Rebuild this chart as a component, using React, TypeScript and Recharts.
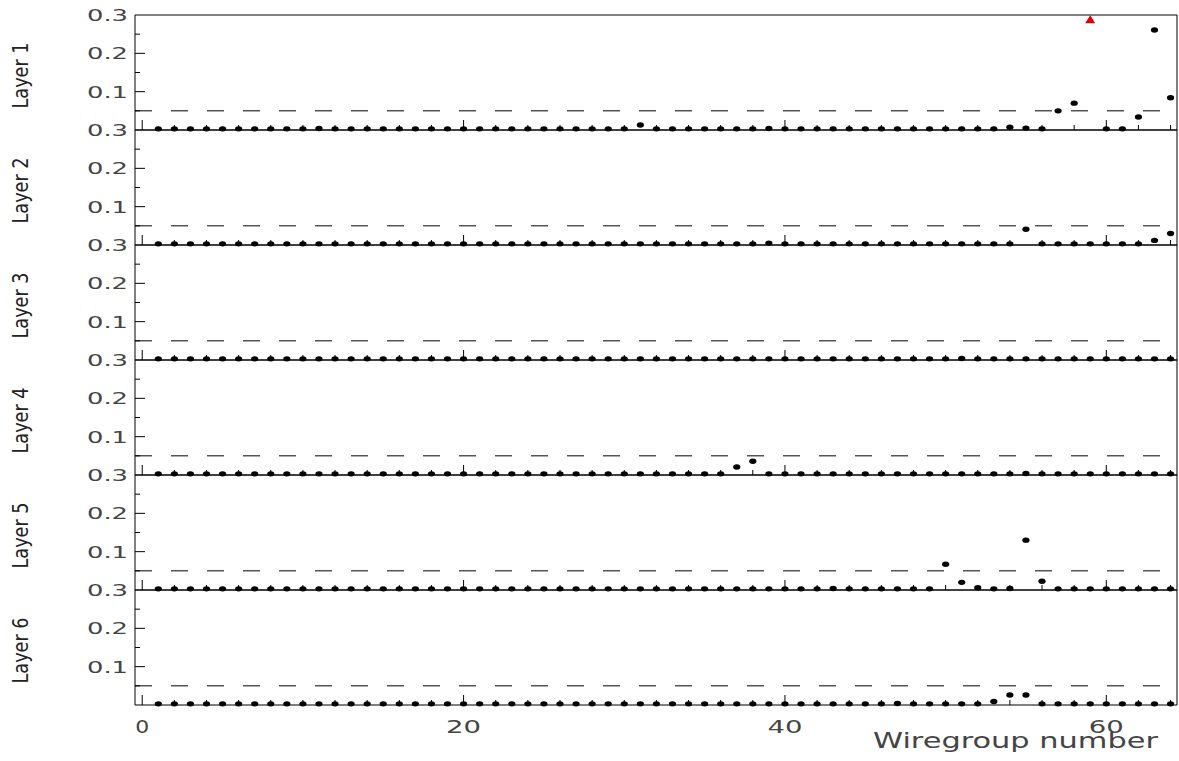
import React from 'react';
import { ScatterChart, Scatter, XAxis, YAxis, ReferenceLine } from 'recharts';

// wiregroup numbers 1..64 along the x axis
const wiregroups = Array.from({ length: 64 }, (_, i) => i + 1);

const layerNames = ['Layer 1', 'Layer 2', 'Layer 3', 'Layer 4', 'Layer 5', 'Layer 6'];

// one value per wiregroup, null where the point is off scale
const layer1 = [
  0.003, 0.003, 0.003, 0.003, 0.003, 0.003, 0.003, 0.003, 0.003, 0.003, 0.004, 0.003, 0.003, 0.003, 0.003, 0.003,
  0.003, 0.003, 0.003, 0.003, 0.003, 0.003, 0.003, 0.003, 0.003, 0.003, 0.003, 0.003, 0.003, 0.003, 0.013, 0.003,
  0.003, 0.003, 0.003, 0.003, 0.003, 0.003, 0.004, 0.003, 0.003, 0.003, 0.003, 0.003, 0.003, 0.003, 0.003, 0.003,
  0.003, 0.003, 0.003, 0.003, 0.003, 0.007, 0.005, 0.003, 0.050, 0.070, null, 0.003, 0.003, 0.034, 0.261, 0.084,
];
const layer2 = [
  0.003, 0.003, 0.003, 0.003, 0.003, 0.003, 0.003, 0.003, 0.003, 0.003, 0.003, 0.003, 0.003, 0.003, 0.003, 0.003,
  0.003, 0.003, 0.003, 0.003, 0.003, 0.003, 0.003, 0.003, 0.003, 0.003, 0.003, 0.003, 0.003, 0.003, 0.003, 0.003,
  0.003, 0.003, 0.003, 0.003, 0.003, 0.003, 0.005, 0.003, 0.003, 0.003, 0.003, 0.003, 0.003, 0.003, 0.003, 0.003,
  0.003, 0.003, 0.003, 0.003, 0.003, 0.003, 0.041, 0.003, 0.003, 0.003, 0.003, 0.003, 0.003, 0.003, 0.012, 0.030,
];
const layer3 = [
  0.003, 0.003, 0.003, 0.003, 0.003, 0.003, 0.003, 0.003, 0.003, 0.003, 0.003, 0.003, 0.003, 0.003, 0.003, 0.003,
  0.003, 0.003, 0.003, 0.003, 0.003, 0.003, 0.003, 0.003, 0.003, 0.003, 0.003, 0.003, 0.003, 0.003, 0.003, 0.003,
  0.003, 0.003, 0.003, 0.003, 0.003, 0.003, 0.003, 0.003, 0.003, 0.003, 0.003, 0.003, 0.003, 0.003, 0.003, 0.003,
  0.003, 0.003, 0.004, 0.003, 0.003, 0.003, 0.003, 0.003, 0.003, 0.003, 0.003, 0.003, 0.003, 0.003, 0.003, 0.003,
];
const layer4 = [
  0.003, 0.003, 0.003, 0.003, 0.003, 0.003, 0.003, 0.003, 0.003, 0.003, 0.003, 0.003, 0.003, 0.003, 0.003, 0.003,
  0.003, 0.003, 0.003, 0.003, 0.003, 0.003, 0.003, 0.003, 0.003, 0.003, 0.003, 0.003, 0.003, 0.003, 0.003, 0.003,
  0.003, 0.003, 0.003, 0.003, 0.021, 0.036, 0.003, 0.003, 0.003, 0.003, 0.003, 0.003, 0.003, 0.003, 0.003, 0.003,
  0.003, 0.003, 0.003, 0.003, 0.003, 0.003, 0.004, 0.003, 0.003, 0.003, 0.003, 0.003, 0.003, 0.003, 0.003, 0.003,
];
const layer5 = [
  0.003, 0.003, 0.003, 0.003, 0.003, 0.003, 0.003, 0.003, 0.003, 0.003, 0.003, 0.003, 0.003, 0.003, 0.003, 0.003,
  0.003, 0.003, 0.003, 0.003, 0.003, 0.003, 0.003, 0.003, 0.003, 0.003, 0.003, 0.003, 0.003, 0.003, 0.003, 0.003,
  0.003, 0.003, 0.003, 0.003, 0.003, 0.003, 0.003, 0.003, 0.003, 0.003, 0.004, 0.003, 0.003, 0.003, 0.003, 0.003,
  0.003, 0.067, 0.020, 0.006, 0.003, 0.004, 0.130, 0.023, 0.003, 0.003, 0.003, 0.003, 0.003, 0.003, 0.003, 0.003,
];
const layer6 = [
  0.003, 0.003, 0.003, 0.003, 0.003, 0.003, 0.003, 0.003, 0.003, 0.003, 0.003, 0.003, 0.003, 0.003, 0.003, 0.003,
  0.003, 0.003, 0.003, 0.003, 0.003, 0.003, 0.003, 0.003, 0.003, 0.003, 0.003, 0.003, 0.003, 0.003, 0.003, 0.003,
  0.003, 0.003, 0.003, 0.003, 0.003, 0.003, 0.003, 0.003, 0.003, 0.003, 0.003, 0.003, 0.003, 0.003, 0.004, 0.003,
  0.003, 0.003, 0.003, 0.003, 0.009, 0.026, 0.026, 0.003, 0.003, 0.003, 0.003, 0.003, 0.003, 0.003, 0.003, 0.003,
];
const layerValues = [layer1, layer2, layer3, layer4, layer5, layer6];

// off-scale point in layer 1, drawn as a red triangle near the top
const overflowLayer = 0;
const overflowWiregroups = [59];
const overflowValues = [0.289];

const threshold = 0.05;
const xTicks = [0, 2, 4, 6, 8, 10, 12, 14, 16, 18, 20, 22, 24, 26, 28, 30, 32, 34, 36, 38, 40, 42, 44, 46, 48, 50, 52, 54, 56, 58, 60, 62, 64];
const xLabels = [0, 20, 40, 60];
const yTicks = [0.05, 0.1, 0.15, 0.2, 0.25, 0.3];
const yLabels = [0.1, 0.2, 0.3];

const W = 1179;
const PANEL_TOP = 15;
const PANEL_H = 115;
const PAD = 12;
const numFont = '"DejaVu Sans", sans-serif';

const XTick = (props: any) => {
  const { x, y, payload, showLabel } = props;
  const v = payload.value;
  const len = v % 20 === 0 ? 10 : 5;
  const txt = String(v);
  return (
    <g>
      <line x1={x} x2={x} y1={y} y2={y - len} stroke="#000" strokeWidth={1} />
      {showLabel && xLabels.includes(v) && (
        <text
          x={x}
          y={y + 28}
          textAnchor="middle"
          fontFamily={numFont}
          fontSize={17}
          fill="#444"
          textLength={txt.length === 1 ? 14 : 35}
          lengthAdjust="spacingAndGlyphs"
        >
          {txt}
        </text>
      )}
    </g>
  );
};

const YTick = (props: any) => {
  const { x, y, payload } = props;
  const v = payload.value;
  const major = Math.abs(v * 10 - Math.round(v * 10)) < 1e-6;
  return (
    <g>
      {v < 0.3 && <line x1={x} x2={x + (major ? 10 : 5)} y1={y} y2={y} stroke="#000" strokeWidth={1} />}
      {yLabels.some((l) => Math.abs(l - v) < 1e-6) && (
        <text
          x={x - 7}
          y={y + 6}
          textAnchor="end"
          fontFamily={numFont}
          fontSize={15}
          fill="#444"
          textLength={41}
          lengthAdjust="spacingAndGlyphs"
        >
          {v.toFixed(1)}
        </text>
      )}
    </g>
  );
};

const LayerLabel = (props: any) => {
  const vb = props.viewBox || { y: PAD, height: PANEL_H };
  const cy = vb.y + vb.height / 2 + 3;
  const bx = 28;
  return (
    <text
      x={bx}
      y={cy}
      transform={`rotate(-90, ${bx}, ${cy})`}
      textAnchor="middle"
      fontFamily='"Liberation Sans Narrow", "DejaVu Sans Condensed", sans-serif'
      fontSize={21}
      fill="#222"
      textLength={66}
      lengthAdjust="spacingAndGlyphs"
    >
      {props.text}
    </text>
  );
};

const AxisTitle = (props: any) => {
  const vb = props.viewBox || { x: 135, y: 705, width: 1042 };
  const right = vb.x + vb.width - 19;
  return (
    <text
      x={right}
      y={vb.y + 43}
      textAnchor="end"
      fontFamily={numFont}
      fontSize={21}
      fill="#444"
      textLength={285}
      lengthAdjust="spacingAndGlyphs"
    >
      Wiregroup number
    </text>
  );
};

const Dot = (props: any) => <ellipse cx={props.cx} cy={props.cy} rx={3.6} ry={2.7} fill="#000" />;

const Triangle = (props: any) => {
  const { cx, cy } = props;
  return <polygon points={`${cx - 5},${cy + 4} ${cx + 5},${cy + 4} ${cx},${cy - 4}`} fill="#e00000" />;
};

function LayerPanel({ index }: { index: number }) {
  const isLast = index === layerNames.length - 1;
  const padBottom = isLast ? 56 : PAD;
  const data = wiregroups
    .map((wg, i) => ({ wg, value: layerValues[index][i] }))
    .filter((d) => d.value !== null);
  const overflow =
    index === overflowLayer ? overflowWiregroups.map((wg, i) => ({ wg, value: overflowValues[i] })) : [];

  return (
    <div style={{ position: 'absolute', left: 0, top: PANEL_TOP + index * PANEL_H - PAD }}>
      <ScatterChart
        width={W}
        height={PANEL_H + PAD + padBottom}
        margin={{ top: PAD - 1, right: 1, bottom: padBottom - 1, left: 0 }}
      >
        <XAxis
          dataKey="wg"
          type="number"
          domain={[-0.45, 64.4]}
          ticks={xTicks}
          interval={0}
          height={1}
          tickLine={false}
          tickSize={0}
          tickMargin={0}
          axisLine={{ stroke: '#000', strokeWidth: 1 }}
          tick={<XTick showLabel={isLast} />}
          label={isLast ? <AxisTitle /> : undefined}
        />
        <XAxis
          xAxisId="top"
          orientation="top"
          type="number"
          domain={[0, 1]}
          height={1}
          tick={false}
          tickLine={false}
          axisLine={{ stroke: '#000', strokeWidth: 1 }}
        />
        <YAxis
          dataKey="value"
          type="number"
          domain={[0, 0.3]}
          ticks={yTicks}
          interval={0}
          width={135}
          tickLine={false}
          tickSize={0}
          tickMargin={0}
          axisLine={{ stroke: '#000', strokeWidth: 1 }}
          tick={<YTick />}
          label={<LayerLabel text={layerNames[index]} />}
        />
        <YAxis
          yAxisId="right"
          orientation="right"
          type="number"
          domain={[0, 1]}
          width={1}
          tick={false}
          tickLine={false}
          axisLine={{ stroke: '#000', strokeWidth: 1 }}
        />
        <ReferenceLine y={threshold} stroke="#000" strokeWidth={1} strokeDasharray="17 19" />
        <Scatter data={data} shape={<Dot />} isAnimationActive={false} />
        {overflow.length > 0 && <Scatter data={overflow} shape={<Triangle />} isAnimationActive={false} />}
      </ScatterChart>
    </div>
  );
}

export default function App() {
  return (
    <div style={{ position: 'absolute', left: 0, top: 0, width: W, height: 761, background: '#fff' }}>
      {layerNames.map((name, i) => (
        <LayerPanel key={name} index={i} />
      ))}
    </div>
  );
}
